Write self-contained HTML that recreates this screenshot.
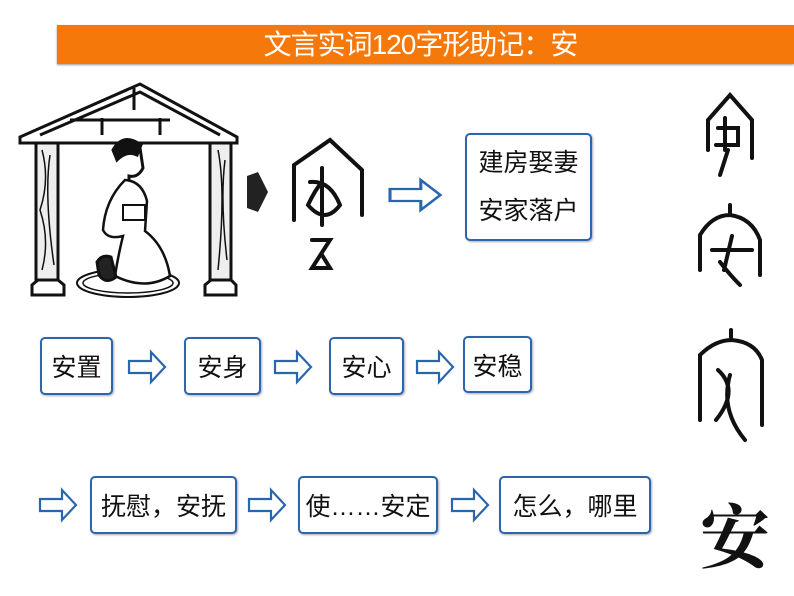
<!DOCTYPE html>
<html><head><meta charset="utf-8"><style>
body{margin:0;width:794px;height:596px;background:#fff;position:relative;overflow:hidden;font-family:"Liberation Sans","Noto Sans CJK SC",sans-serif}
.hdr{position:absolute;left:57px;top:25px;width:737px;height:39px;background:#f5780a;color:#fff;font-size:28px;line-height:39px;text-align:center;box-shadow:0 1px 2px #999}
.b{position:absolute;border:2px solid #2a66ae;border-radius:5px;background:#fff;box-shadow:1px 1px 2px #aab;display:flex;align-items:center;justify-content:center;color:#111;font-size:25px;box-sizing:border-box;white-space:nowrap}
svg{position:absolute;left:0;top:0}
</style></head><body>
<div class="hdr"><span style="margin-left:-10px;letter-spacing:-1px">文言实词120字形助记：安</span></div>
<div class="b" style="left:465px;top:133px;width:127px;height:108px;flex-direction:column;line-height:48px;font-size:25px">建房娶妻<br>安家落户</div>
<div class="b" style="left:40px;top:337px;width:73px;height:58px">安置</div>
<div class="b" style="left:184px;top:337px;width:77px;height:58px">安身</div>
<div class="b" style="left:329px;top:337px;width:75px;height:58px">安心</div>
<div class="b" style="left:463px;top:336px;width:69px;height:57px">安稳</div>
<div class="b" style="left:90px;top:476px;width:147px;height:58px">抚慰，安抚</div>
<div class="b" style="left:298px;top:476px;width:140px;height:58px">使……安定</div>
<div class="b" style="left:499px;top:476px;width:152px;height:58px">怎么，哪里</div>
<svg width="794" height="596" viewBox="0 0 794 596">
<defs><path id="ar" d="M0,-6 H22 V-15 L36,0 L22,15 V6 H0 Z" fill="#fff" stroke="#2a66ae" stroke-width="2.2" stroke-linejoin="miter"/></defs>
<use href="#ar" transform="translate(390,195) scale(1.4,1)"/>
<use href="#ar" transform="translate(129,367)"/>
<use href="#ar" transform="translate(275,367)"/>
<use href="#ar" transform="translate(417,367)"/>
<use href="#ar" transform="translate(40,505)"/>
<use href="#ar" transform="translate(249,505)"/>
<use href="#ar" transform="translate(452,505)"/>
<g stroke="#111" fill="none" stroke-width="3">
<path d="M20,137 L140,84 L237,137 L237,143 L20,143 Z" fill="#fff"/>
<path d="M40,135 L140,92 L220,135"/>
<path d="M70,120 H170 M102,118 V135 M160,118 V135 M134,88 V110"/>
<rect x="36" y="143" width="22" height="137" fill="#eee"/>
<rect x="210" y="143" width="21" height="137" fill="#eee"/>
<path d="M42,150 q8,30 -2,60 q10,30 2,60 M50,155 q-6,40 4,110 M218,150 q8,40 0,120 M225,160 q-5,40 2,100" stroke-width="1.5"/>
<path d="M32,295 V285 L38,280 H58 L64,285 V295 Z M205,295 V285 L211,280 H231 L236,285 V295 Z" fill="#fff"/>
<ellipse cx="128" cy="283" rx="51" ry="14" stroke-width="2"/>
<ellipse cx="128" cy="283" rx="45" ry="10" stroke-width="1.5"/>
<path d="M115,150 q10,-12 25,-2 l3,20 q-5,10 -14,8 l0,12" fill="#fff"/>
<path d="M113,150 q10,-18 28,-5 l-4,10 q-10,-5 -20,5 z" fill="#111"/>
<path d="M125,180 q-20,20 -22,50 q5,10 20,6 q-5,20 -8,40 q30,15 55,0 q-5,-30 -25,-45 l2,-30 q-5,-20 -22,-21 z" fill="#fff" stroke-width="2.5"/>
<path d="M123,205 h22 v15 h-22 z" fill="#fff" stroke-width="2"/>
<path d="M97,262 q5,-8 14,-5 l5,20 q-10,8 -17,-2 z" fill="#222"/>
</g>
<path d="M247,176 L258,172 L268,192 L258,212 L247,208 Z" fill="#222"/>
<g stroke="#111" fill="none" stroke-width="4" stroke-linecap="round">
<path d="M294,220 V165 L330,140 L362,170 V215"/>
<path d="M322,168 V225 M310,182 Q330,180 340,205 Q325,225 308,205 Q315,190 322,182 M312,240 L330,240 L312,268 L330,268 L322,255"/>
</g>
<g stroke="#111" fill="none" stroke-width="4" stroke-linecap="round">
<path d="M708,150 V120 L730,95 L752,120 V158 M725,118 V150 M718,128 H738 V145 H716 M728,150 L720,175"/>
<path d="M700,270 V235 Q712,215 730,215 Q752,218 760,240 V275 M730,205 V215 M712,250 H752 M732,236 L724,270 M720,262 Q730,275 740,285"/>
<path d="M700,420 V355 Q715,340 732,340 Q755,342 762,360 V425 M731,330 V340 M718,370 Q740,390 716,420 M730,375 Q720,410 745,440"/>
</g>
<text x="735" y="562" font-size="70" text-anchor="middle" font-family="'Noto Serif CJK SC',serif" font-weight="bold" fill="#111">安</text>
</svg>
</body></html>
